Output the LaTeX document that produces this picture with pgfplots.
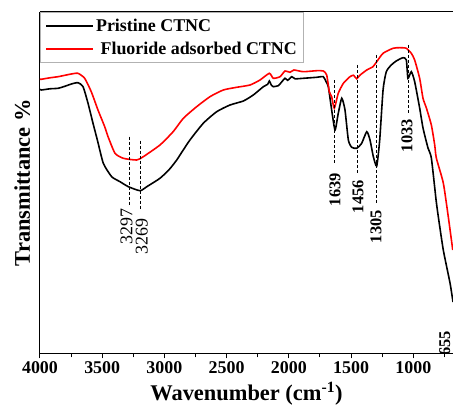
\documentclass[border=0pt]{standalone}
\usepackage{fontspec}
\setmainfont{Liberation Serif}
\usepackage{pgfplots}
\pgfplotsset{compat=1.18}
\begin{document}
\begin{tikzpicture}
\begin{axis}[
  scale only axis, width=413bp, height=341.3bp,
  x dir=reverse, xmin=681, xmax=4000, ymin=0, ymax=341.3,
  axis lines*=left,
  axis line style={line width=1pt},
  xtick={1000,1500,2000,2500,3000,3500,4000},
  minor xtick={750,1250,1750,2250,2750,3250,3750},
  ytick=\empty,
  tick align=outside, major tick length=5bp, minor tick length=4bp,
  every tick/.style={line width=1pt, black},
  /pgf/number format/assume math mode=true,
  /pgf/number format/1000 sep={},
  ticklabel style={font=\fontsize{18}{20}\selectfont\bfseries},
  xlabel={Wavenumber (cm\textsuperscript{-1})},
  ylabel={Transmittance \%},
  label style={font=\fontsize{22.5}{24}\selectfont\bfseries},
  ylabel style={at={(axis description cs:-0.015,0.5)}, anchor=south},
  xlabel style={at={(axis description cs:0.5,0)}, anchor=south, yshift=-55bp},
  legend style={at={(rel axis cs:0,1)}, anchor=north west, draw=gray!60, line width=0.8pt,
    font=\fontsize{18}{19}\selectfont\bfseries, inner xsep=5bp, inner ysep=4.5bp, row sep=5bp},
  legend cell align=left,
  legend image code/.code={\path (0bp,0bp) -- (12bp,0bp); \draw[#1, line width=1.8pt] (12bp,0bp) -- (47bp,0bp);},
]
\addplot[black, line width=1.6pt, smooth, tension=0.35] coordinates {
(4000,264) (3990,263.3) (3920,264.5) (3855,265) (3800,267) (3748,269.3) (3695,270.6) (3654,266.6)
(3614,250) (3574,230) (3539,213.3) (3491,190) (3424,176.6) (3357,171.6) (3290,166.6)
(3196,162.6) (3142,166.6) (3036,175) (2960,184) (2901,193.3) (2875,198.3) (2795,213.3) (2688,230)
(2580,241.6) (2473,248.3) (2366,252.3) (2286,258.3) (2205,266.6) (2170,269) (2157,272.3) (2140,268) (2125,266.6)
(2085,267.6) (2060,271) (2031,275) (2010,273) (1977,276.6) (1950,274.5) (1884,275) (1776,276) (1723,276.6)
(1701,271.6) (1683,266.6) (1656,243.3) (1629,223.3) (1603,240) (1575,255) (1549,243.3)
(1522,213.3) (1495,206) (1455,205) (1415,210) (1374,221.6) (1348,213.3) (1321,196.6)
(1294,187.3) (1270,213.3) (1243,263.3) (1217,281.6) (1177,288.3) (1137,292.3) (1083,295.6)
(1056,293.3) (1043,275) (1016,281.6) (989,271.6) (949,245.3) (922,225.3) (882,205.3)
(855,195.3) (817,153.3) (799,136.6) (759,103.3) (705,70.3) (681,51.3)
};
\addlegendentry{Pristine CTNC}
\addplot[red, line width=1.6pt, smooth, tension=0.35] coordinates {
(4000,274) (3990,274) (3920,275.5) (3855,276.6) (3800,278) (3748,279.3) (3695,280) (3641,275)
(3588,261.6) (3534,243.3) (3480,226.6) (3453,216.6) (3397,200) (3330,195) (3223,193.3)
(3170,196.6) (3036,208.3) (2930,221.6) (2848,235) (2741,246.6) (2634,256.6) (2527,263.3)
(2419,266) (2312,268.3) (2232,273.3) (2157,280) (2125,275) (2071,276.6) (2031,282.3)
(1991,281) (1959,283.3) (1884,281.6) (1776,282.6) (1723,282.3) (1696,278.3) (1675,261.6)
(1656,256.6) (1635,245) (1603,260) (1562,270) (1509,276.6) (1480,278) (1455,274.5) (1430,278)
(1374,283.3) (1324,286.6) (1294,291.6) (1243,300) (1163,305) (1109,305.6) (1056,305)
(1016,300) (989,293.3) (949,275) (922,255) (895,245.3) (855,228.3) (828,208.3) (815,195.3)
(759,170.3) (719,136.6) (683,103.3)
};
\addlegendentry{\ Fluoride adsorbed CTNC}
\pgfplotsset{every axis plot/.append style={forget plot}}
\addplot[black, line width=0.9pt, dash pattern=on 3bp off 2bp] coordinates {(3282,216.6) (3282,148.3)};
\addplot[black, line width=0.9pt, dash pattern=on 3bp off 2bp] coordinates {(3191,212.6) (3191,144.3)};
\addplot[black, line width=0.9pt, dash pattern=on 3bp off 2bp] coordinates {(1637,273) (1637,190.3)};
\addplot[black, line width=0.9pt, dash pattern=on 3bp off 2bp] coordinates {(1447,288.3) (1447,180.3)};
\addplot[black, line width=0.9pt, dash pattern=on 3bp off 2bp] coordinates {(1294,298.3) (1294,150.3)};
\addplot[black, line width=0.9pt, dash pattern=on 3bp off 2bp] coordinates {(1040,308.3) (1040,240.3)};
\begin{scope}[every node/.style={rotate=90, anchor=east, inner sep=0pt}]
\node[font=\fontsize{18}{18}\selectfont] at (axis cs:3305,145.3) {3297};
\node[font=\fontsize{18}{18}\selectfont] at (axis cs:3183,135.3) {3269};
\node[font=\fontsize{16.5}{17}\selectfont\bfseries] at (axis cs:1629,180.3) {1639};
\node[font=\fontsize{16.5}{17}\selectfont\bfseries] at (axis cs:1444,173.3) {1456};
\node[font=\fontsize{16.5}{17}\selectfont\bfseries] at (axis cs:1300,143.3) {1305};
\node[font=\fontsize{16.5}{17}\selectfont\bfseries] at (axis cs:1050,234.3) {1033};
\node[font=\fontsize{16.5}{17}\selectfont\bfseries] at (axis cs:748,22.5) {655};
\end{scope}
\draw[line width=1pt] (rel axis cs:0,1) -- (rel axis cs:1,1);
\end{axis}
\pgfresetboundingbox
\path (-40bp,-53.7bp) rectangle (413bp,353.3bp);
\end{tikzpicture}
\end{document}
